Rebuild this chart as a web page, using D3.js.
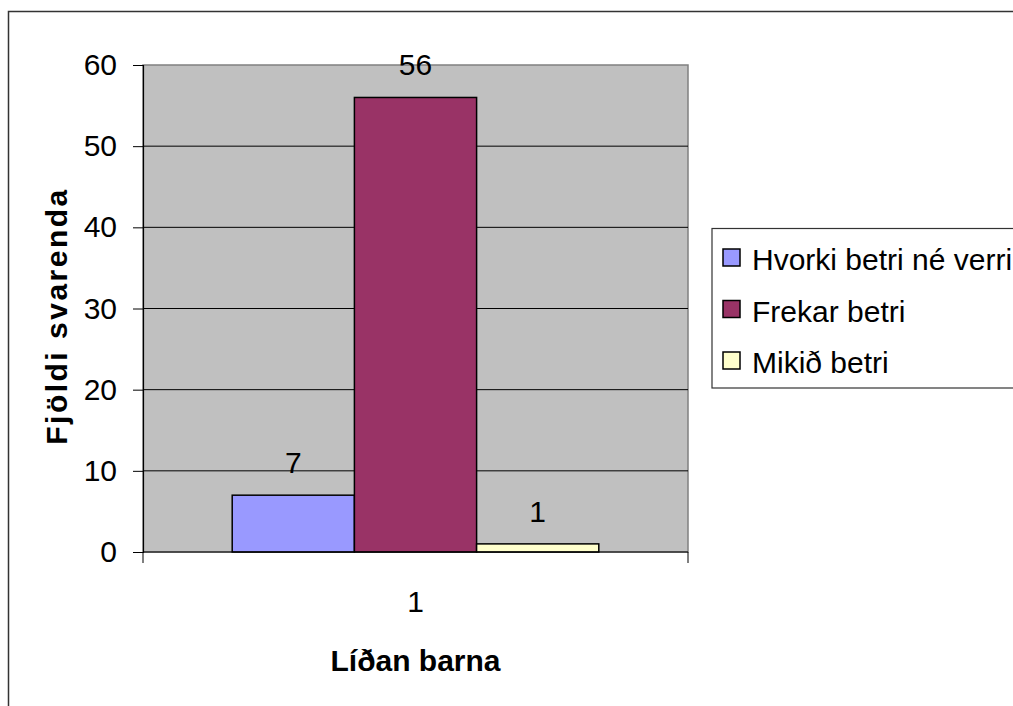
<!DOCTYPE html>
<html>
<head>
<meta charset="utf-8">
<script src="https://cdn.jsdelivr.net/npm/d3@7"></script>
<style>
  html, body { margin: 0; padding: 0; background: white; }
  svg { display: block; font-family: "Liberation Sans", Arial, sans-serif; }
</style>
</head>
<body>
<svg id="chart" width="1013" height="706"></svg>
<script>
const categories = ["1"];
const seriesNames = ["Hvorki betri né verri", "Frekar betri", "Mikið betri"];
const seriesValues = [7, 56, 1];
const seriesColours = ["#9999FF", "#993366", "#FFFFCC"];
const yTicks = [0, 10, 20, 30, 40, 50, 60];

const svg = d3.select("#chart");

// outer chart frame (runs off the right and bottom edge)
svg.append("rect")
    .attr("x", 8.5).attr("y", 11.5)
    .attr("width", 1100).attr("height", 800)
    .attr("fill", "white")
    .attr("stroke", "#333")
    .attr("stroke-width", 1.5);

const margin = { top: 65, left: 143, right: 688, bottom: 552 };

const xScale = d3.scaleBand()
    .domain(categories)
    .range([margin.left, margin.right]);

const barScale = d3.scaleBand()
    .domain(seriesNames)
    .range([0, xScale.bandwidth()])
    .paddingOuter(0.73)
    .paddingInner(0);

const yScale = d3.scaleLinear()
    .domain([0, 60])
    .range([margin.bottom, margin.top]);

// plot area
svg.append("rect")
    .attr("x", margin.left).attr("y", margin.top)
    .attr("width", margin.right - margin.left)
    .attr("height", margin.bottom - margin.top)
    .attr("fill", "#C0C0C0")
    .attr("stroke", "#808080")
    .attr("stroke-width", 1.5);

// gridlines
svg.selectAll("line.grid")
    .data(yTicks.slice(1, -1))
    .join("line")
    .attr("class", "grid")
    .attr("x1", margin.left).attr("x2", margin.right)
    .attr("y1", d => yScale(d)).attr("y2", d => yScale(d))
    .attr("stroke", "black")
    .attr("stroke-width", 1);

// y axis
const yAxis = svg.append("g")
    .attr("transform", `translate(${margin.left},0)`)
    .call(d3.axisLeft(yScale).tickValues(yTicks).tickSize(10).tickPadding(16));
yAxis.select(".domain").attr("stroke", "black").attr("stroke-width", 1.2);
yAxis.selectAll(".tick line").attr("stroke", "black");
yAxis.selectAll(".tick text")
    .attr("font-size", 30)
    .attr("fill", "black")
    .attr("font-family", "Liberation Sans, Arial, sans-serif");

// bars
const rows = seriesNames.map((name, i) => ({ name, value: seriesValues[i], colour: seriesColours[i] }));

const group = svg.append("g")
    .attr("transform", `translate(${xScale(categories[0])},0)`);

group.selectAll("rect.bar")
    .data(rows)
    .join("rect")
    .attr("class", "bar")
    .attr("x", d => barScale(d.name))
    .attr("y", d => yScale(d.value))
    .attr("width", barScale.bandwidth())
    .attr("height", d => yScale(0) - yScale(d.value))
    .attr("fill", d => d.colour)
    .attr("stroke", "black")
    .attr("stroke-width", 1.5);

group.selectAll("text.value")
    .data(rows)
    .join("text")
    .attr("class", "value")
    .attr("x", d => barScale(d.name) + barScale.bandwidth() / 2)
    .attr("y", d => yScale(d.value) - 22)
    .attr("text-anchor", "middle")
    .attr("font-size", 30)
    .text(d => d.value);

// x axis
svg.append("line")
    .attr("x1", margin.left).attr("x2", margin.right)
    .attr("y1", margin.bottom).attr("y2", margin.bottom)
    .attr("stroke", "black").attr("stroke-width", 1.2);

svg.selectAll("line.xtick")
    .data([margin.left, margin.right])
    .join("line")
    .attr("class", "xtick")
    .attr("x1", d => d).attr("x2", d => d)
    .attr("y1", margin.bottom).attr("y2", margin.bottom + 11)
    .attr("stroke", "black");

svg.selectAll("text.xlabel")
    .data(categories)
    .join("text")
    .attr("class", "xlabel")
    .attr("x", d => xScale(d) + xScale.bandwidth() / 2)
    .attr("y", 612)
    .attr("text-anchor", "middle")
    .attr("font-size", 30)
    .text(d => d);

// axis titles
svg.append("text")
    .attr("x", (margin.left + margin.right) / 2)
    .attr("y", 671)
    .attr("text-anchor", "middle")
    .attr("font-size", 30)
    .attr("font-weight", "bold")
    .text("Líðan barna");

svg.append("text")
    .attr("transform", `translate(67,316)rotate(-90)`)
    .attr("text-anchor", "middle")
    .attr("font-size", 30)
    .attr("font-weight", "bold")
    .attr("letter-spacing", 2.5)
    .text("Fjöldi svarenda");

// legend
const legend = svg.append("g");
legend.append("rect")
    .attr("x", 712).attr("y", 228.5)
    .attr("width", 400).attr("height", 159.5)
    .attr("fill", "white")
    .attr("stroke", "#333")
    .attr("stroke-width", 1.2);

const items = legend.selectAll("g.item")
    .data(rows)
    .join("g")
    .attr("class", "item")
    .attr("transform", (d, i) => `translate(723,${258 + i * 51.5})`);

items.append("rect")
    .attr("x", 0).attr("y", -9)
    .attr("width", 17).attr("height", 17)
    .attr("fill", d => d.colour)
    .attr("stroke", "black")
    .attr("stroke-width", 1.5);

items.append("text")
    .attr("x", 29)
    .attr("y", 12)
    .attr("font-size", 30)
    .text(d => d.name);
</script>
</body>
</html>
